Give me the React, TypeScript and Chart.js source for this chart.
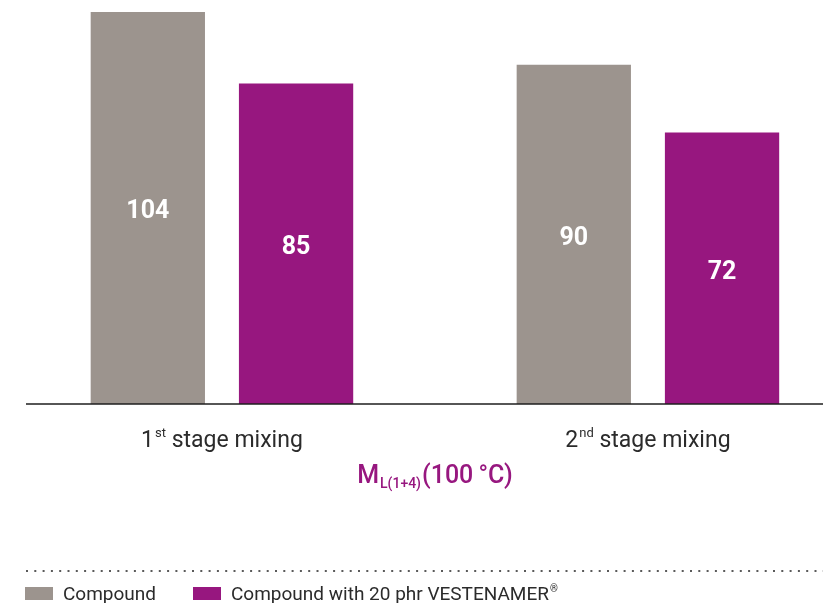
import React, { useEffect, useRef } from "react";
import { Chart, registerables } from "chart.js";

Chart.register(...registerables);

// ---- data ----
const categories = ["1st stage mixing", "2nd stage mixing"];
const seriesNames = ["Compound", "Compound with 20 phr VESTENAMER®"];
const compoundValues = [104, 90];
const vestenamerValues = [85, 72];
const seriesColors = ["#9c948e", "#97177f"];
const titleMain = "M";
const titleSub = "L(1+4)";
const titleRest = "(100\u2009°C)";

const FONT = "Roboto, 'Noto Sans', sans-serif";

function font(size: number, weight: number | string = 400) {
  return `${weight} ${size}px ${FONT}`;
}

const customPlugin = {
  id: "customDraw",
  afterDatasetsDraw(chart: any) {
    const ctx: CanvasRenderingContext2D = chart.ctx;
    const area = chart.chartArea;
    const xScale = chart.scales.x;
    ctx.save();

    // baseline axis
    ctx.strokeStyle = "#1e1e1e";
    ctx.lineWidth = 1.5;
    ctx.beginPath();
    ctx.moveTo(area.left, area.bottom);
    ctx.lineTo(area.right, area.bottom);
    ctx.stroke();

    // value labels inside bars
    ctx.fillStyle = "#ffffff";
    ctx.font = font(25, 700);
    ctx.textAlign = "center";
    ctx.textBaseline = "middle";
    chart.data.datasets.forEach((ds: any, di: number) => {
      const meta = chart.getDatasetMeta(di);
      meta.data.forEach((el: any, i: number) => {
        const p = el.getProps(["x", "y", "base"], true);
        ctx.fillText(String(ds.data[i].y), p.x, (p.y + p.base) / 2 + 4);
      });
    });

    // category labels with ordinal superscript
    ctx.fillStyle = "#2b2b2b";
    ctx.textAlign = "left";
    ctx.textBaseline = "alphabetic";
    categories.forEach((label, i) => {
      const m = label.match(/^(\d+)(st|nd|rd|th)(.*)$/);
      const num = m ? m[1] : label;
      const sup = m ? m[2] : "";
      const rest = m ? m[3] : "";
      ctx.font = font(23);
      const wNum = ctx.measureText(num).width;
      const wRest = ctx.measureText(rest).width;
      ctx.font = font(13);
      const wSup = ctx.measureText(sup).width;
      const total = wNum + wSup + wRest + 1;
      const cx = xScale.getPixelForValue(i);
      let x = cx - total / 2;
      const base = 447;
      ctx.font = font(23);
      ctx.fillText(num, x, base);
      x += wNum + 1;
      ctx.font = font(13);
      ctx.fillText(sup, x, base - 10);
      x += wSup;
      ctx.font = font(23);
      ctx.fillText(rest, x, base);
    });

    // axis title with subscript
    {
      ctx.fillStyle = seriesColors[1];
      ctx.font = font(25, 500);
      const wM = ctx.measureText(titleMain).width;
      const wR = ctx.measureText(titleRest).width;
      ctx.font = font(14, 500);
      const wS = ctx.measureText(titleSub).width;
      const total = wM + wS + wR + 2;
      const cx = (xScale.getPixelForValue(0) + xScale.getPixelForValue(1)) / 2;
      let x = cx - total / 2;
      const base = 483;
      ctx.font = font(25, 500);
      ctx.fillText(titleMain, x, base);
      x += wM + 1;
      ctx.font = font(14, 500);
      ctx.fillText(titleSub, x, base + 5);
      x += wS + 1;
      ctx.font = font(25, 500);
      ctx.fillText(titleRest, x, base);
    }

    // dotted separator
    ctx.strokeStyle = "#5a5a5a";
    ctx.lineWidth = 2;
    ctx.setLineDash([2, 6.3]);
    ctx.beginPath();
    ctx.moveTo(26, 571);
    ctx.lineTo(chart.width, 571);
    ctx.stroke();
    ctx.setLineDash([]);

    // legend
    const legendX = [25, 193];
    chart.data.datasets.forEach((ds: any, di: number) => {
      const lx = legendX[di];
      ctx.fillStyle = ds.backgroundColor;
      ctx.fillRect(lx, 587, 28, 13);
      ctx.fillStyle = "#2b2b2b";
      ctx.textBaseline = "alphabetic";
      const label: string = ds.label;
      const hasR = label.endsWith("®");
      const main = hasR ? label.slice(0, -1) : label;
      ctx.font = font(19);
      ctx.fillText(main, lx + 38, 600);
      if (hasR) {
        const w = ctx.measureText(main).width;
        ctx.font = font(10);
        ctx.fillText("®", lx + 38 + w + 1, 592);
      }
    });

    ctx.restore();
  },
};

export default function App() {
  const canvasRef = useRef<HTMLCanvasElement | null>(null);

  useEffect(() => {
    if (!canvasRef.current) return;
    const chart = new Chart(canvasRef.current, {
      type: "bar",
      data: {
        datasets: [
          {
            label: seriesNames[0],
            data: compoundValues.map((v, i) => ({ x: i, y: v })),
            backgroundColor: seriesColors[0],
            borderWidth: 0,
            barPercentage: 0.771,
            categoryPercentage: 0.696,
          },
          {
            label: seriesNames[1],
            data: vestenamerValues.map((v, i) => ({ x: i, y: v })),
            backgroundColor: seriesColors[1],
            borderWidth: 0,
            barPercentage: 0.771,
            categoryPercentage: 0.696,
          },
        ],
      },
      options: {
        animation: false,
        responsive: true,
        maintainAspectRatio: false,
        layout: { padding: { left: 26, top: 12, right: 0, bottom: 199 } },
        scales: {
          x: {
            type: "linear",
            min: -0.46,
            max: 1.411,
            offset: false,
            display: false,
            afterBuildTicks: (scale: any) => {
              scale.ticks = categories.map((_, i) => ({ value: i }));
            },
          },
          y: { type: "linear", min: 0, max: 104, display: false },
        },
        plugins: {
          legend: { display: false },
          tooltip: { enabled: false },
          title: { display: false },
        },
      },
      plugins: [customPlugin],
    });
    return () => chart.destroy();
  }, []);

  return (
    <div style={{ position: "absolute", left: 0, top: 0, width: 823, height: 603, background: "#fff" }}>
      <canvas ref={canvasRef} />
    </div>
  );
}
